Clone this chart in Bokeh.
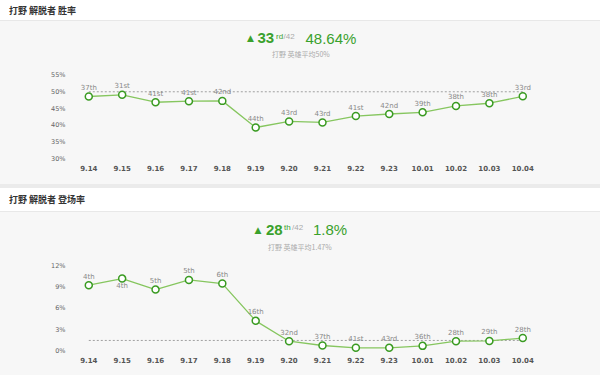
from bokeh.plotting import figure
from bokeh.layouts import column
from bokeh.models import ColumnDataSource, FixedTicker, PrintfTickFormatter, Range1d, Div
from bokeh.embed import file_html
from bokeh.resources import INLINE
from bokeh.core.properties import value

# ---------------- data ----------------
dates = ["9.14", "9.15", "9.16", "9.17", "9.18", "9.19", "9.20",
         "9.21", "9.22", "9.23", "10.01", "10.02", "10.03", "10.04"]

win_rate = [48.6, 49.1, 46.9, 47.2, 47.3, 39.4, 41.2,
            40.9, 42.8, 43.4, 43.9, 45.8, 46.6, 48.64]
win_rank = ["37th", "31st", "41st", "41st", "42nd", "44th", "43rd",
            "43rd", "41st", "42nd", "39th", "38th", "38th", "33rd"]
win_avg = 50.0
win_ticks = [30, 35, 40, 45, 50, 55]

pick_rate = [9.3, 10.24, 8.68, 10.05, 9.53, 4.25, 1.36,
             0.75, 0.42, 0.42, 0.70, 1.36, 1.40, 1.8]
pick_rank = ["4th", "4th", "5th", "5th", "6th", "16th", "32nd",
             "37th", "41st", "43rd", "36th", "28th", "29th", "28th"]
pick_label_below = [False, True, False, False, False, False, False,
                    False, False, False, False, False, False, False]
pick_avg = 1.47
pick_ticks = [0, 3, 6, 9, 12]

# ---------------- style ----------------
BG = "#f7f7f7"
GREEN = "#3aa12c"
LINE = "#86c65f"
MARK = "#3a9b22"
CJK = value("Noto Sans CJK SC")
LAT = value("Liberation Sans")
DJV = value("DejaVu Sans")
FL, FR = 70, 40   # frame borders shared by all figures


def header(height, title):
    return Div(text=title, width=600, height=height, margin=0,
               styles={"background-color": "white", "font-family": "'Noto Sans CJK SC'",
                       "font-size": "9px", "font-weight": "bold", "color": "#333333",
                       "padding-left": "9px", "line-height": f"{height}px",
                       "box-sizing": "border-box", "border-bottom": "1px solid #e8e8e8"})


def separator(height):
    return Div(text="", width=600, height=height, margin=0,
               styles={"background-color": "#ebebeb"})


def stats(height, tri_x, num, num_x, suf, suf_x, tot_x, pct, pct_x, sub, sub_x, my, sy):
    p = figure(width=600, height=height, x_range=Range1d(FL, 600 - FR), y_range=Range1d(height, 0),
               output_backend="svg", toolbar_location=None,
               x_axis_location=None, y_axis_location=None,
               min_border_left=FL, min_border_right=FR, min_border_top=0, min_border_bottom=0,
               background_fill_color=BG, border_fill_color=BG, outline_line_color=None)
    p.grid.visible = False
    p.text(x=[tri_x], y=[my], text=["▲"], text_font=DJV, text_font_size="9px",
           text_baseline="middle", text_color=GREEN)
    p.text(x=[num_x], y=[my], text=[num], text_font=LAT, text_font_style="bold",
           text_font_size="15px", text_baseline="middle", text_color=GREEN)
    p.text(x=[suf_x], y=[my - 2], text=[suf], text_font=LAT, text_font_size="8px",
           text_baseline="middle", text_color=GREEN)
    p.text(x=[tot_x], y=[my - 2], text=["/42"], text_font=LAT, text_font_size="8px",
           text_baseline="middle", text_color="#aaaaaa")
    p.text(x=[pct_x], y=[my], text=[pct], text_font=LAT,
           text_font_size="15px", text_baseline="middle", text_color=GREEN)
    p.text(x=[sub_x], y=[sy], text=[sub], text_font=CJK, text_font_size="7px",
           text_baseline="middle", text_color="#aaaaaa")
    return p


def chart(height, vals, ranks, below, avg, ticks, ymin, ymax, bottom_border):
    xs = list(range(len(dates)))
    yoff = [7 if b else -8.5 for b in below]
    src = ColumnDataSource(dict(x=xs, y=vals, rank=ranks, yoff=yoff))
    p = figure(width=600, height=height, x_range=Range1d(-0.548, 14.13), y_range=Range1d(ymin, ymax),
               output_backend="svg", toolbar_location=None,
               min_border_left=FL, min_border_right=FR, min_border_top=0,
               min_border_bottom=bottom_border,
               background_fill_color=BG, border_fill_color=BG, outline_line_color=None)
    p.grid.visible = False
    p.segment(x0=[xs[0]], y0=[avg], x1=[xs[-1]], y1=[avg], line_color="#a0a0a0",
              line_width=1, line_dash="2 2")
    p.line("x", "y", source=src, line_color=LINE, line_width=1.3)
    p.scatter("x", "y", source=src, size=7, fill_color="white", line_color=MARK, line_width=1.5)
    p.text("x", "y", text="rank", source=src, y_offset="yoff", text_font=DJV,
           text_font_size="7px", text_align="center", text_baseline="middle",
           text_color="#888888")
    ax = p.xaxis[0]
    ax.ticker = FixedTicker(ticks=xs)
    ax.major_label_overrides = {i: d for i, d in zip(xs, dates)}
    ax.axis_line_color = None
    ax.major_tick_line_color = None
    ax.minor_tick_line_color = None
    ax.major_tick_out = 0
    ax.major_tick_in = 0
    ax.minor_tick_out = 0
    ax.major_label_standoff = 4
    ax.major_label_text_font = "DejaVu Sans"
    ax.major_label_text_font_style = "bold"
    ax.major_label_text_font_size = "7px"
    ax.major_label_text_color = "#555555"
    ay = p.yaxis[0]
    ay.ticker = FixedTicker(ticks=ticks)
    ay.formatter = PrintfTickFormatter(format="%d%%")
    ay.axis_line_color = None
    ay.major_tick_line_color = None
    ay.minor_tick_line_color = None
    ay.major_tick_out = 0
    ay.major_tick_in = 0
    ay.minor_tick_out = 0
    ay.major_label_standoff = 5
    ay.major_label_text_font = "DejaVu Sans"
    ay.major_label_text_font_size = "6.5px"
    ay.major_label_text_color = "#666666"
    return p


h1 = header(21, "打野 解脱者 胜率")
s1 = stats(45, 246.5, "33", 257, "rd", 275.5, 283, "48.64%", 305, "打野 英雄平均50%", 271.5, 16.5, 32.3)
c1 = chart(118, win_rate, win_rank, [False] * len(dates), win_avg, win_ticks, 29.61, 57.5, 24)

sep = separator(4)

h2 = header(24, "打野 解脱者 登场率")
s2 = stats(46, 254, "28", 265.5, "th", 283.5, 291.5, "1.8%", 312.5, "打野 英雄平均1.47%", 267.5, 17.3, 34)
c2 = chart(117, pick_rate, pick_rank, pick_label_below, pick_avg, pick_ticks, -0.24, 13.09, 23)

layout = column(h1, s1, c1, sep, h2, s2, c2, spacing=0,
                styles={"background-color": BG})

open("out.html", "w").write(file_html(layout, INLINE))
